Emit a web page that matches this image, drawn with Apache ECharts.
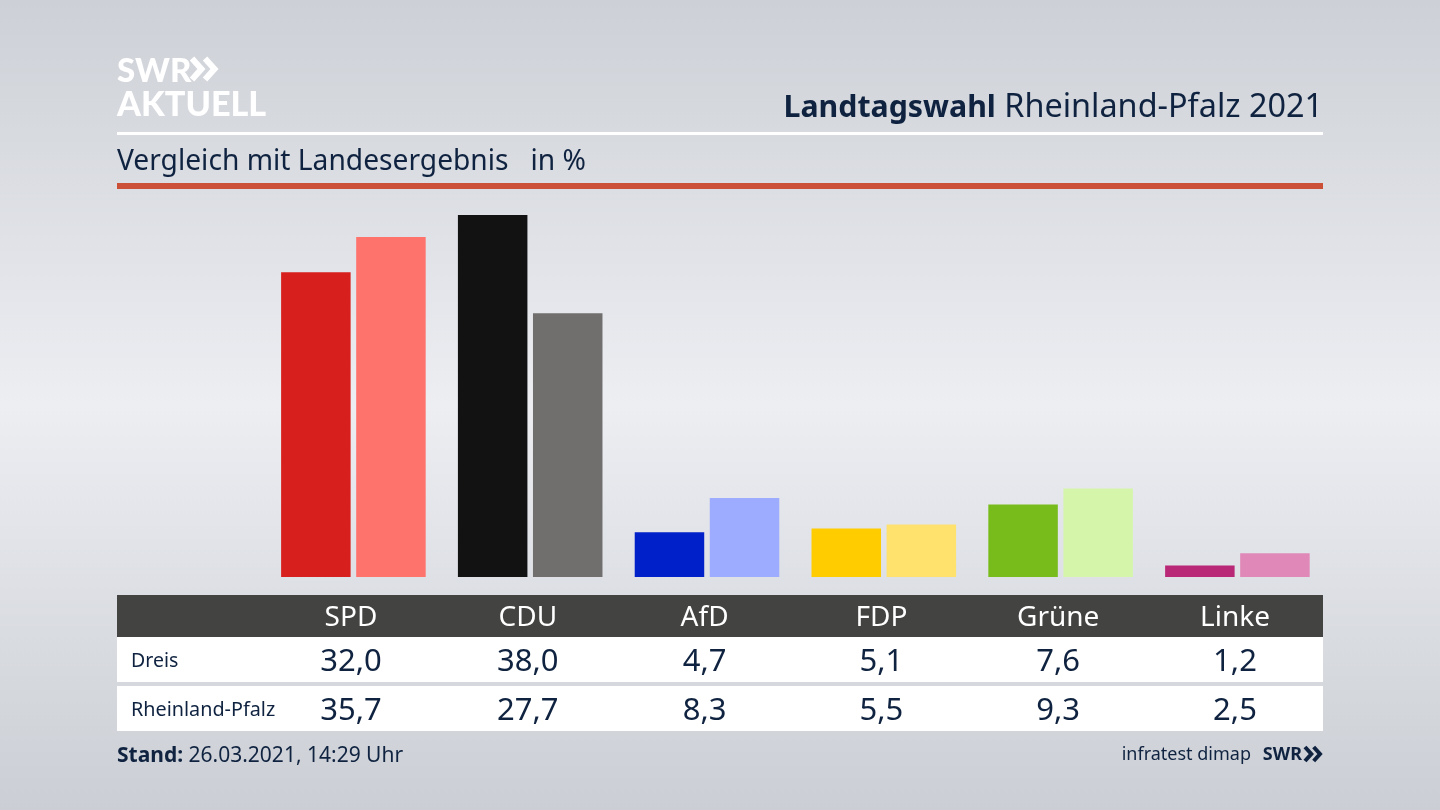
<!DOCTYPE html>
<html lang="de">
<head>
    <meta charset="UTF-8">
    <title>Landtagswahl Rheinland-Pfalz 2021</title>
    <script src="https://cdn.jsdelivr.net/npm/echarts@6/dist/echarts.min.js"></script>
    <style>
        html, body { margin: 0; padding: 0; }
        #chart { width: 1440px; height: 810px; }
    </style>
</head>
<body>
<div id="chart"></div>
<script type="text/javascript">
    // data
    const parties = ['SPD', 'CDU', 'AfD', 'FDP', 'Grüne', 'Linke'];
    const dreis = [32.0, 38.0, 4.7, 5.1, 7.6, 1.2];
    const rheinlandPfalz = [35.7, 27.7, 8.3, 5.5, 9.3, 2.5];
    const dreisColors = ['#d71f1d', '#121212', '#0021c9', '#ffcc00', '#78bc1b', '#b92877'];
    const landColors = ['#ff736d', '#706f6d', '#9eacff', '#ffe16e', '#d5f6aa', '#e088b8'];

    const FONT = '"Noto Sans", sans-serif';
    const NAVY = '#0f2340';
    const BASELINE = 577;

    function fmt(v) {
        return v.toFixed(1).replace('.', ',');
    }

    function withColors(values, colors) {
        return values.map(function (v, i) {
            return { value: v, itemStyle: { color: colors[i] } };
        });
    }

    // one hidden-line category axis per table row
    function tableAxis(labels, y, fontSize, color) {
        return {
            type: 'category',
            gridIndex: 1,
            data: labels,
            position: 'bottom',
            offset: y - BASELINE,
            axisLine: { show: false },
            axisTick: { show: false },
            z: 5,
            axisLabel: {
                margin: 0,
                interval: 0,
                verticalAlign: 'middle',
                color: color,
                fontFamily: FONT,
                fontSize: fontSize
            }
        };
    }

    function box(x, y, width, height, fill) {
        return { type: 'rect', z: 1, shape: { x: x, y: y, width: width, height: height }, style: { fill: fill } };
    }

    function label(x, y, text, fontSize, fill, extra) {
        return {
            type: 'text', z: 2, x: x, y: y,
            style: Object.assign({
                text: text, fill: fill, fontFamily: FONT, fontSize: fontSize,
                verticalAlign: 'middle'
            }, extra || {})
        };
    }

    // the two arrows of the SWR logo
    function chevrons(x, y, size, width, color) {
        return [0, 0.62].map(function (k) {
            let x0 = x + k * size;
            return {
                type: 'polyline', z: 2,
                shape: { points: [[x0, y - size / 2], [x0 + size * 0.45, y], [x0, y + size / 2]] },
                style: { stroke: color, lineWidth: width, fill: null }
            };
        });
    }

    let chart = echarts.init(document.getElementById('chart'), null, { renderer: 'canvas' });

    let option = {
        animation: false,
        backgroundColor: new echarts.graphic.LinearGradient(0, 0, 0, 1, [
            { offset: 0, color: '#cdd0d6' },
            { offset: 0.5, color: '#eceef2' },
            { offset: 1, color: '#cbced4' }
        ]),
        grid: [
            { left: 265, right: 114.2, top: 196, bottom: 233 },
            { left: 262.6, right: 116.6, top: 196, bottom: 233 }
        ],
        xAxis: [
            {
                type: 'category', gridIndex: 0, data: parties,
                axisLine: { show: false }, axisTick: { show: false }, axisLabel: { show: false }
            },
            tableAxis(parties, 618, 28, '#ffffff'),
            tableAxis(dreis.map(fmt), 662, 31, NAVY),
            tableAxis(rheinlandPfalz.map(fmt), 711, 31, NAVY)
        ],
        yAxis: [
            { type: 'value', gridIndex: 0, min: 0, max: 40, show: false },
            { type: 'value', gridIndex: 1, min: 0, max: 40, show: false }
        ],
        series: [
            {
                name: 'Dreis', type: 'bar', barWidth: 69.5, barGap: '8%',
                data: withColors(dreis, dreisColors)
            },
            {
                name: 'Rheinland-Pfalz', type: 'bar', barWidth: 69.5,
                data: withColors(rheinlandPfalz, landColors)
            }
        ],
        graphic: [
            // logo
            label(117, 71, 'SWR', 33, '#ffffff', { fontWeight: 900, fontFamily: 'Lato, sans-serif' })
        ].concat(chevrons(192, 69, 21, 6, '#ffffff'), [
            label(117, 105, 'AKTUELL', 34.2, '#ffffff', { fontWeight: 900, fontFamily: 'Lato, sans-serif' }),
            // header
            box(117, 132, 1206, 3, '#ffffff'),
            box(117, 183, 1206, 6, '#cc5038'),
            label(1323, 108, '{b|Landtagswahl} Rheinland-Pfalz 2021', 32.4, NAVY, {
                align: 'right',
                rich: { b: { fontWeight: 'bold', fontSize: 30.3, fontFamily: FONT, fill: NAVY } }
            }),
            label(117, 162, 'Vergleich mit Landesergebnis   in %', 28.2, NAVY),
            // table
            box(117, 595, 1206, 42, '#434341'),
            box(117, 637, 1206, 45, '#ffffff'),
            box(117, 686, 1206, 45, '#ffffff'),
            label(131, 661, 'Dreis', 19.5, NAVY),
            label(131, 710, 'Rheinland-Pfalz', 19.8, NAVY),
            // footer
            label(117, 756, '{b|Stand:} 26.03.2021, 14:29 Uhr', 21, NAVY, {
                rich: { b: { fontWeight: 'bold', fontSize: 21, fontFamily: FONT, fill: NAVY } }
            }),
            label(1251, 755, 'infratest dimap', 18, NAVY, { align: 'right' }),
            label(1302, 755, 'SWR', 18, NAVY, { align: 'right', fontWeight: 'bold' })
        ], chevrons(1305, 754, 14, 4, NAVY))
    };

    chart.setOption(option);
</script>
</body>
</html>
